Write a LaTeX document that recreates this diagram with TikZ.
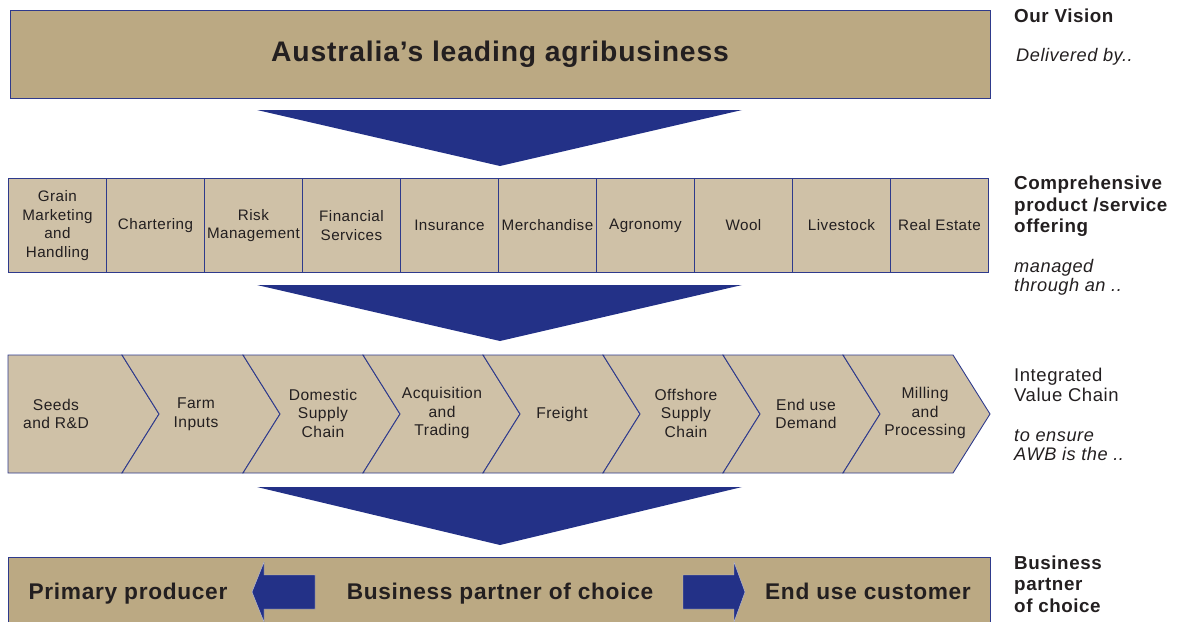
\documentclass[tikz,border=0pt]{standalone}
\usepackage{fontspec}
\setmainfont{Liberation Sans}[LetterSpace=3]
\definecolor{tandark}{HTML}{BBA983}
\definecolor{tanlight}{HTML}{CFC1A7}
\definecolor{navy}{HTML}{233187}
\definecolor{edgeblue}{HTML}{2E3A8C}
\definecolor{ink}{HTML}{231F20}
\begin{document}
\begin{tikzpicture}[x=1pt,y=-1pt,
  bigbox/.style={fill=tandark,draw=edgeblue,line width=0.9pt,anchor=north west,inner sep=0pt},
  cell/.style={fill=tanlight,draw=edgeblue,line width=0.9pt,anchor=north west,inner sep=0pt,
    minimum width=98pt,minimum height=94pt,align=center,text=ink,
    font=\fontsize{15.2}{18.6}\selectfont},
  chev/.style={fill=tanlight,draw=edgeblue,line width=0.9pt,line join=miter},
  chevtext/.style={align=center,text=ink,inner sep=0pt,font=\fontsize{15.6}{18.5}\selectfont},
  pointer/.style={fill=navy,draw=none},
  sidearrow/.style={fill=navy,draw=white!70!navy,line width=0.4pt},
  bottomtext/.style={text=ink,inner sep=0pt,anchor=base,font=\fontsize{22.7}{27}\selectfont\bfseries},
  side/.style={text=ink,inner sep=0pt,anchor=base west,font=\fontsize{18.5}{21}\selectfont},
  sidebold/.style={side,font=\fontsize{18.8}{21}\selectfont\bfseries},
  sideit/.style={side,font=\fontsize{18.2}{21}\selectfont\itshape}]
\useasboundingbox (0,0) rectangle (1185,621);
\clip (0,0) rectangle (1185,621);

% vision banner
\node[bigbox,minimum width=980pt,minimum height=88pt] (vision) at (10,10) {};
\node[text=ink,inner sep=0pt,anchor=base,font=\fontsize{28.3}{32}\selectfont\bfseries]
  (visiontext) at (500,61.5) {Australia’s leading agribusiness};

% down pointers
\fill[pointer] (257,110) -- (742,110) -- (500,166) -- cycle;
\fill[pointer] (257,285) -- (742,285) -- (500,341) -- cycle;
\fill[pointer] (257,487) -- (742,487) -- (500,545) -- cycle;

% product / service offering
\foreach \t [count=\i from 0] in {{Grain\\Marketing\\and\\Handling},Chartering,{Risk\\Management},
    {Financial\\Services},Insurance,Merchandise,Agronomy,Wool,Livestock,{Real Estate}}
  \node[cell] (cell\i) at (8+98*\i,178) {\t};

% value chain
\draw[chev] (8,355) -- (122,355) -- (159,414) -- (122,473) -- (8,473) -- cycle;
\foreach \a/\b in {122/243,243/363,363/483,483/603,603/723,723/843,843/953}
  \draw[chev] (\a,355) -- (\b,355) -- (\b+37,414) -- (\b,473) -- (\a,473) -- (\a+37,414) -- cycle;
\node[chevtext] (vc1) at (56,414)  {Seeds\\and R\&D};
\node[chevtext] (vc2) at (196,414) {Farm\\Inputs};
\node[chevtext] (vc3) at (323,413) {Domestic\\Supply\\Chain};
\node[chevtext] (vc4) at (442,413) {Acquisition\\and\\Trading};
\node[chevtext] (vc5) at (562,414) {Freight};
\node[chevtext] (vc6) at (686,413) {Offshore\\Supply\\Chain};
\node[chevtext] (vc7) at (806,414) {End use\\Demand};
\node[chevtext] (vc8) at (925,413) {Milling\\and\\Processing};

% business partner band
\node[bigbox,minimum width=982pt,minimum height=80pt] (partner) at (8,557) {};
\node[bottomtext] (producer) at (128,599) {Primary producer};
\node[bottomtext] (choice) at (500,599) {Business partner of choice};
\node[bottomtext] (customer) at (868,599) {End use customer};
\draw[sidearrow] (315,575) -- (264,575) -- (264,562) -- (252,592) -- (264,622)
  -- (264,609) -- (315,609) -- cycle;
\draw[sidearrow] (683,575) -- (734,575) -- (734,562) -- (745,592) -- (734,622)
  -- (734,609) -- (683,609) -- cycle;

% side commentary
\node[sidebold] (s1) at (1014,23) {Our Vision};
\node[sideit] (s2) at (1016,61) {Delivered by..};
\node[sidebold] (s3) at (1014,189) {Comprehensive};
\node[sidebold] (s4) at (1014,211) {product /service};
\node[sidebold] (s5) at (1014,232) {offering};
\node[sideit] (s6) at (1014,272) {managed};
\node[sideit] (s7) at (1014,291) {through an ..};
\node[side] (s8) at (1014,381) {Integrated};
\node[side] (s9) at (1014,401) {Value Chain};
\node[sideit] (s10) at (1014,441) {to ensure};
\node[sideit] (s11) at (1014,460) {AWB is the ..};
\node[sidebold] (s12) at (1014,569) {Business};
\node[sidebold] (s13) at (1014,590) {partner};
\node[sidebold] (s14) at (1014,612) {of choice};
\end{tikzpicture}
\end{document}
